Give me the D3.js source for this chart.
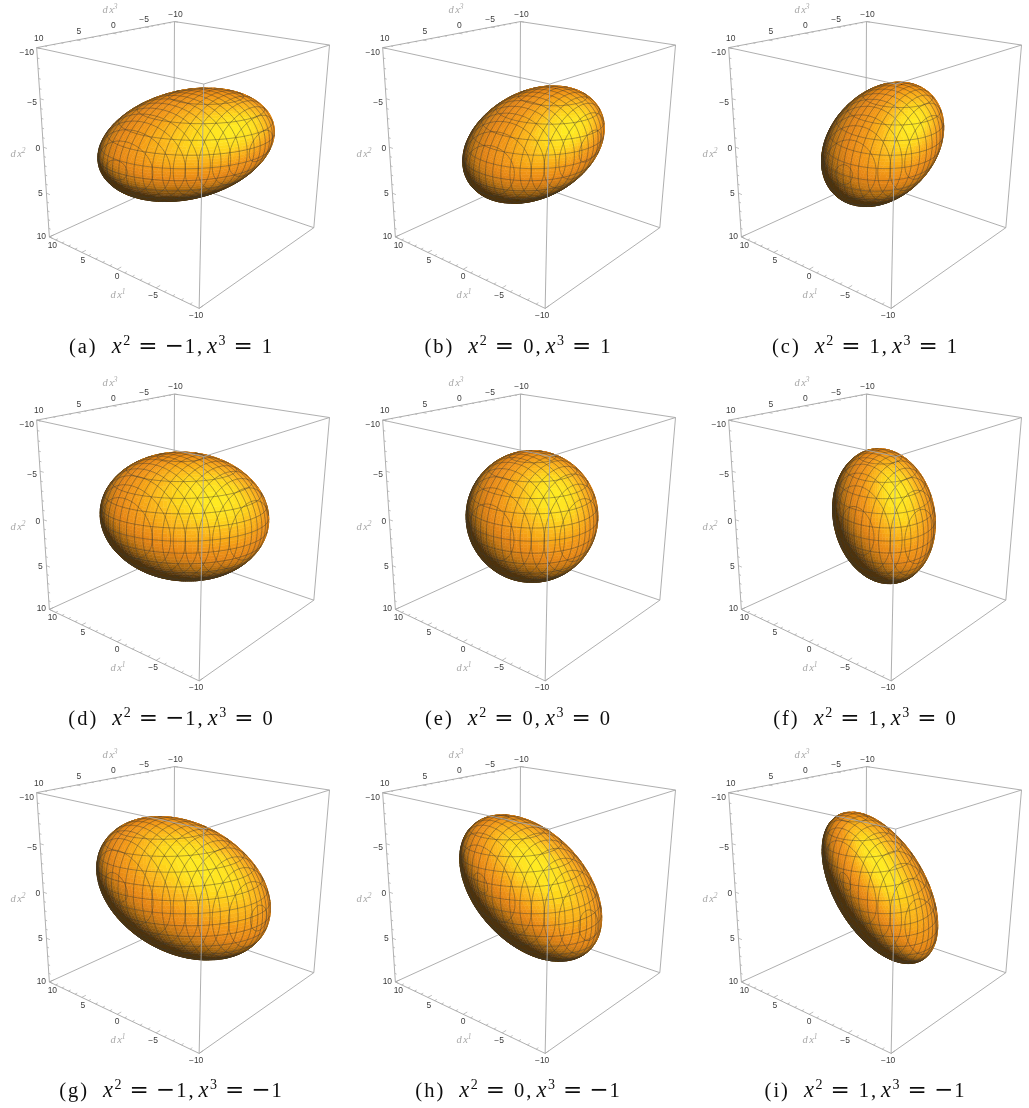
<!DOCTYPE html>
<html>
<head>
<meta charset="utf-8">
<style>
    body { margin: 0; background: #fff; }
    svg { display: block; }
    .tick-label { font-family: "Liberation Sans", sans-serif; font-size: 8.5px; fill: #3c3c3c; text-anchor: middle; }
    .axis-label { font-family: "Liberation Serif", serif; font-style: italic; font-size: 10.5px; fill: #a8a8a8; text-anchor: middle; }
    .caption { font-family: "Liberation Serif", serif; font-size: 20.5px; fill: #111; text-anchor: middle; }
    .math { font-family: "DejaVu Serif", serif; font-size: 23px; }
    .var { font-style: italic; font-size: 22.5px; }
</style>
<script src="https://cdn.jsdelivr.net/npm/d3@7"></script>
</head>
<body>
<div id="chart"></div>
<script>
// one entry per panel, left to right then top to bottom
const panelLetters = ["a", "b", "c", "d", "e", "f", "g", "h", "i"];
const x2Values = [-1, 0, 1, -1, 0, 1, -1, 0, 1];
const x3Values = [1, 1, 1, 0, 0, 0, -1, -1, -1];
// ellipsoid shape read off the silhouettes: stretch along dx1+dx3, shear of that
// direction against dx2, scale of dx2, and small offset of the centre along dx1+dx3
const diagStretch = [1.3, 1.02, 0.88, 1.28, 1, 0.775, 1.26, 0.98, 0.76];
const diagShear = [0.325, 0.33, 0.28, -0.075, 0, -0.08, -0.404, -0.46, -0.45];
const dx2Scale = [0.833, 0.868, 0.93, 0.977, 1, 1.03, 1.108, 1.135, 1.178];
const diagCenter = [-0.1, -0.2, -0.5, 0, -0.1, -0.7, 0, -0.1, -0.4];
const sphereRadius = 6.65;

const tickValues = [10, 9, 8, 7, 6, 5, 4, 3, 2, 1, 0, -1, -2, -3, -4, -5, -6, -7, -8, -9, -10];
const labelledTicks = [10, 5, 0, -5, -10];
// mesh spacing for dx1, dx2, dx3
const meshSteps = [0.85, 1.25, 0.85];

const shadeStops = [0, 0.2, 0.38, 0.55, 0.75, 0.88, 0.97, 1];
const shadeColors = ["#4f3209", "#8f590e", "#c47612", "#e58514", "#f39a17", "#fcba1b", "#ffe020", "#ffea24"];

const width = 1029, height = 1108;
const colStep = 346, rowStep = 372.5;
const originX = 185, originY = 144;

// camera, fitted to the box corners
const azimuth = 39.4 * Math.PI / 180;
const elevation = 20 * Math.PI / 180;
const distance = 6.7, focal = 661, roll = 0.011;

const cube = d3.scaleLinear().domain([-10, 10]).range([-1, 1]);
const shadeScale = d3.scaleLinear().domain(shadeStops).range(shadeColors).clamp(true);

function toCamera(s1, s2, s3) {
    let h = -Math.sin(azimuth) * s1 + Math.cos(azimuth) * s3;
    let r = -Math.cos(azimuth) * s1 - Math.sin(azimuth) * s3;
    let y = -s2;
    return [r,
        -Math.sin(elevation) * h + Math.cos(elevation) * y,
        Math.cos(elevation) * h + Math.sin(elevation) * y];
}

function project(d) {
    let c = toCamera(cube(d[0]), cube(d[1]), cube(d[2]));
    let k = focal / (distance - c[2]);
    return [k * (c[0] + roll * c[1]), -k * (c[1] - roll * c[0])];
}

const line = d3.line();
const light = [0.3, 0.28, 0.91];

function shade(n) {
    let t = n[0] * light[0] + n[1] * light[1] + n[2] * light[2];
    // lower left falls off faster than the rest of the rim
    t -= 0.3 * Math.max(0, -0.45 * n[0] - 0.85 * n[1] - 0.25);
    return shadeScale(Math.round(Math.max(0, t) * 64) / 64);
}

function buildSurface(idx) {
    const nu = 120, nv = 60;
    let stretch = diagStretch[idx], shear = diagShear[idx], scale2 = dx2Scale[idx];
    let grid = [];
    for (let j = 0; j <= nv; j++) {
        let row = [];
        let v = j / nv * Math.PI;
        for (let i = 0; i <= nu; i++) {
            let u = i / nu * 2 * Math.PI;
            let a = [Math.sin(v) * Math.cos(u), Math.cos(v), Math.sin(v) * Math.sin(u)];
            let ae = (a[0] + a[2]) * Math.SQRT1_2, ap = (a[0] - a[2]) * Math.SQRT1_2;
            let de = sphereRadius * (stretch * ae + shear * a[1]) + diagCenter[idx];
            let data = [
                (de + sphereRadius * ap) * Math.SQRT1_2,
                sphereRadius * scale2 * a[1],
                (de - sphereRadius * ap) * Math.SQRT1_2
            ];
            let ne = ae / stretch;
            let nd = [(ne + ap) * Math.SQRT1_2, (a[1] - shear * ae / stretch) / scale2, (ne - ap) * Math.SQRT1_2];
            let len = Math.hypot(nd[0], nd[1], nd[2]);
            // the camera rotation is orthogonal, so normals go through it as well
            let n = toCamera(nd[0] / len, nd[1] / len, nd[2] / len);
            let c = toCamera(cube(data[0]), cube(data[1]), cube(data[2]));
            let facing = -n[0] * c[0] - n[1] * c[1] + n[2] * (distance - c[2]) > 0;
            row.push({ data, n, facing, xy: project(data) });
        }
        grid.push(row);
    }
    return { grid, nu, nv };
}

function crossing(p, q, axis, level) {
    let a = p.data[axis] - level, b = q.data[axis] - level;
    if ((a < 0) === (b < 0)) return null;
    let t = a / (a - b);
    return [p.xy[0] + t * (q.xy[0] - p.xy[0]), p.xy[1] + t * (q.xy[1] - p.xy[1])];
}

function drawSurface(g, idx) {
    let { grid, nu, nv } = buildSurface(idx);
    let buckets = new Map();
    let mesh = "";

    for (let j = 0; j < nv; j++) {
        for (let i = 0; i < nu; i++) {
            let quad = [grid[j][i], grid[j][i + 1], grid[j + 1][i + 1], grid[j + 1][i]];
            if (!quad.some(d => d.facing)) continue;

            let n = [0, 1, 2].map(k => d3.mean(quad, d => d.n[k]));
            let len = Math.hypot(n[0], n[1], n[2]);
            let color = shade(n.map(v => v / len));
            let d = line(quad.map(p => p.xy)) + "Z";
            buckets.set(color, (buckets.get(color) || "") + d);

            if (!quad.every(d => d.facing)) continue;
            for (let axis = 0; axis < 3; axis++) {
                let step = meshSteps[axis];
                let vals = quad.map(p => p.data[axis]);
                let lo = Math.ceil(d3.min(vals) / step);
                let hi = Math.floor(d3.max(vals) / step);
                for (let k = lo; k <= hi; k++) {
                    let pts = [];
                    for (let e = 0; e < 4; e++) {
                        let hit = crossing(quad[e], quad[(e + 1) % 4], axis, k * step);
                        if (hit) pts.push(hit);
                    }
                    if (pts.length === 2) mesh += line(pts);
                }
            }
        }
    }

    g.append("g").selectAll("path")
        .data(Array.from(buckets))
        .join("path")
        .attr("d", d => d[1])
        .attr("fill", d => d[0])
        .attr("stroke", d => d[0])
        .attr("stroke-width", 0.5);

    g.append("path")
        .attr("d", mesh)
        .attr("fill", "none")
        .attr("stroke", "#3f3a30")
        .attr("stroke-opacity", 0.62)
        .attr("stroke-width", 0.7);
}

const backEdges = [
    [[10, 10, -10], [10, 10, 10]],
    [[10, 10, -10], [-10, 10, -10]],
    [[10, 10, -10], [10, -10, -10]]
];
const frontEdges = [
    [[10, -10, 10], [10, -10, -10]],
    [[10, -10, -10], [-10, -10, -10]],
    [[-10, -10, -10], [-10, -10, 10]],
    [[-10, -10, 10], [10, -10, 10]],
    [[10, -10, 10], [10, 10, 10]],
    [[-10, -10, 10], [-10, 10, 10]],
    [[-10, -10, -10], [-10, 10, -10]],
    [[10, 10, 10], [-10, 10, 10]],
    [[-10, 10, 10], [-10, 10, -10]]
];

function drawEdges(g, edges) {
    g.append("g").selectAll("path")
        .data(edges)
        .join("path")
        .attr("d", d => line(d.map(project)))
        .attr("fill", "none")
        .attr("stroke", "#a6a6a6")
        .attr("stroke-width", 0.9);
}

function drawTicks(g, point, dir) {
    g.append("g").selectAll("path")
        .data(tickValues)
        .join("path")
        .attr("d", v => {
            let len = v % 5 === 0 ? 0.55 : 0.3;
            let p = point(v);
            return line([p, p.map((c, i) => c + dir[i] * len)].map(project));
        })
        .attr("fill", "none")
        .attr("stroke", "#a6a6a6")
        .attr("stroke-width", 0.7);
}

function drawTickLabels(g, point, offsets) {
    g.append("g").selectAll("text")
        .data(labelledTicks)
        .join("text")
        .attr("class", "tick-label")
        .attr("x", (v, i) => project(point(v))[0] + offsets[i][0])
        .attr("y", (v, i) => project(point(v))[1] + offsets[i][1] + 3)
        .text(v => String(v).replace("-", "\u2212"));
}

function axisLabel(g, n, x, y) {
    let t = g.append("text").attr("class", "axis-label").attr("x", x).attr("y", y);
    t.append("tspan").text("d");
    t.append("tspan").attr("dx", 1.5).text("x");
    t.append("tspan").attr("dy", -4).attr("font-size", 7.5).text(n);
}

function drawPanel(g, idx) {
    drawEdges(g, backEdges);
    drawSurface(g, idx);
    drawEdges(g, frontEdges);

    let dx1Point = v => [v, 10, 10];
    let dx2Point = v => [10, v, 10];
    let dx3Point = v => [10, -10, v];
    drawTicks(g, dx1Point, [0, 0, -1]);
    drawTicks(g, dx2Point, [-1, 0, 0]);
    drawTicks(g, dx3Point, [-1, 0, 0]);

    // label nudges follow labelledTicks order
    drawTickLabels(g, dx1Point, [[3, 8], [1, 7.5], [0, 7], [-3, 7], [-3, 6.5]]);
    drawTickLabels(g, dx2Point, [[-8, -1], [-6, 0], [-5.5, 1], [-8, 3], [-10, 4]]);
    drawTickLabels(g, dx3Point, [[2, -10], [2, -9], [0.5, -8], [-1, -8], [1, -8]]);

    axisLabel(g, "3", -75, -131);
    axisLabel(g, "2", -167, 13);
    axisLabel(g, "1", -67, 154);
}

function captionValue(t, v) {
    if (v < 0) {
        t.append("tspan").attr("class", "math").attr("dx", 7).text("\u2212");
        t.append("tspan").attr("dx", 1).text(-v);
    } else {
        t.append("tspan").attr("dx", 9).text(v);
    }
}

function drawCaption(g, idx) {
    let t = g.append("text").attr("class", "caption");
    t.append("tspan").attr("letter-spacing", 2).text(`(${panelLetters[idx]})`);
    t.append("tspan").attr("dx", 14).attr("class", "var").text("x");
    t.append("tspan").attr("dx", 1.5).attr("dy", -8).attr("font-size", 14).text("2");
    t.append("tspan").attr("dy", 8).attr("dx", 8).attr("class", "math").text("=");
    captionValue(t, x2Values[idx]);
    t.append("tspan").attr("dx", 2).text(",");
    t.append("tspan").attr("dx", 5).attr("class", "var").text("x");
    t.append("tspan").attr("dx", 1.5).attr("dy", -8).attr("font-size", 14).text("3");
    t.append("tspan").attr("dy", 8).attr("dx", 8).attr("class", "math").text("=");
    captionValue(t, x3Values[idx]);
}

const svg = d3.select("#chart").append("svg")
    .attr("width", width)
    .attr("height", height);

// the source is a slightly soft raster
svg.append("defs").append("filter")
    .attr("id", "soft")
    .append("feGaussianBlur")
    .attr("stdDeviation", 0.35);

const root = svg.append("g").attr("filter", "url(#soft)");

panelLetters.forEach((letter, idx) => {
    let col = idx % 3, row = Math.floor(idx / 3);
    let panel = root.append("g")
        .attr("transform", `translate(${originX + col * colStep},${originY + row * rowStep})`);
    drawPanel(panel, idx);

    let cap = root.append("g")
        .attr("transform", `translate(${170.5 + col * 347},${353 + row * 372})`);
    drawCaption(cap, idx);
});
</script>
</body>
</html>
